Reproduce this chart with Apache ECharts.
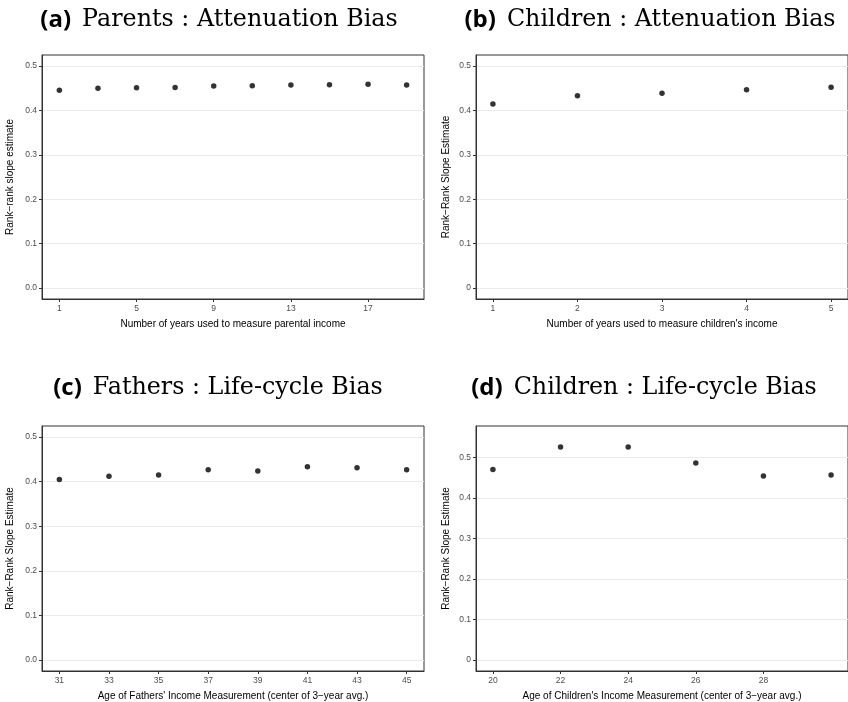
<!DOCTYPE html>
<html><head><meta charset="utf-8">
<script src="https://cdn.jsdelivr.net/npm/echarts@6/dist/echarts.min.js"></script>
<style>html,body{margin:0;padding:0;background:#fff}#c{width:848px;height:702px}</style>
</head><body><div id="c"></div>
<script>
// ---- data ----
const xA = [1, 3, 5, 7, 9, 11, 13, 15, 17, 19];
const yA = [0.4455, 0.450, 0.4513, 0.452, 0.455, 0.4558, 0.4574, 0.458, 0.459, 0.4574];
const xB = [1, 2, 3, 4, 5];
const yB = [0.4148, 0.4334, 0.4388, 0.4469, 0.4522];
const xC = [31, 33, 35, 37, 39, 41, 43, 45];
const yC = [0.405, 0.412, 0.415, 0.4267, 0.424, 0.4334, 0.4311, 0.4267];
const xD = [20, 22, 24, 26, 28, 30];
const yD = [0.4703, 0.5257, 0.5257, 0.486, 0.454, 0.4564];

const xTicksA = [1, 5, 9, 13, 17];
const xTicksB = [1, 2, 3, 4, 5];
const xTicksC = [31, 33, 35, 37, 39, 41, 43, 45];
const xTicksD = [20, 22, 24, 26, 28];
const yTickValues = [0, 0.1, 0.2, 0.3, 0.4, 0.5];
const yTickLabelsAC = ['0.0', '0.1', '0.2', '0.3', '0.4', '0.5'];
const yTickLabelsBD = ['0', '0.1', '0.2', '0.3', '0.4', '0.5'];

const titles = [
  ['(a)', 'Parents : Attenuation Bias'],
  ['(b)', 'Children : Attenuation Bias'],
  ['(c)', 'Fathers : Life-cycle Bias'],
  ['(d)', 'Children : Life-cycle Bias']
];
const yNames = ['Rank\u2212rank slope estimate', 'Rank\u2212Rank Slope Estimate', 'Rank\u2212Rank Slope Estimate', 'Rank\u2212Rank Slope Estimate'];
const xNames = ['Number of years used to measure parental income',
  "Number of years used to measure children's income",
  "Age of Fathers' Income Measurement (center of 3\u2212year avg.)",
  "Age of Children's Income Measurement (center of 3\u2212year avg.)"];

// ---- layout ----
const grids = [
  {left: 42, top: 55, width: 382, height: 244},
  {left: 476, top: 55, width: 382, height: 244},
  {left: 42, top: 426, width: 382, height: 245},
  {left: 476, top: 426, width: 382, height: 245}
];
const xRanges = [[0.1, 19.9], [0.8, 5.2], [30.3, 45.7], [19.5, 30.5]];
const yRanges = [[-0.025, 0.525], [-0.025, 0.525], [-0.025, 0.525], [-0.0275, 0.5775]];
const xTicks = [xTicksA, xTicksB, xTicksC, xTicksD];
const yLabels = [yTickLabelsAC, yTickLabelsBD, yTickLabelsAC, yTickLabelsBD];
const yNameGaps = [27, 25, 27, 25];
const titlePos = [[219, 20], [650, 20], [218, 388], [644, 388]];
const xs = [xA, xB, xC, xD], ys = [yA, yB, yC, yD];

const tickFont = {fontFamily: 'Liberation Sans', fontSize: 8.5, color: '#4d4d4d'};
const nameFont = {fontFamily: 'Liberation Sans', fontSize: 10, color: '#000'};

const option = {
  animation: false,
  backgroundColor: '#fff',
  grid: grids.map(g => Object.assign({show: true, borderColor: '#333', borderWidth: 1, backgroundColor: '#fff', containLabel: false}, g)),
  xAxis: grids.map((g, i) => ({
    type: 'value', gridIndex: i, min: xRanges[i][0], max: xRanges[i][1],
    name: xNames[i], nameLocation: 'middle', nameGap: 20, nameTextStyle: nameFont,
    axisLine: {show: true, onZero: false, lineStyle: {color: '#333', width: 1}},
    axisTick: {show: true, length: 3, customValues: xTicks[i], lineStyle: {color: '#333'}},
    axisLabel: Object.assign({show: true, margin: 5, customValues: xTicks[i], formatter: v => String(v)}, tickFont),
    splitLine: {show: false}
  })),
  yAxis: grids.map((g, i) => ({
    type: 'value', gridIndex: i, min: yRanges[i][0], max: yRanges[i][1], interval: 0.1,
    name: yNames[i], nameLocation: 'middle', nameGap: yNameGaps[i], nameTextStyle: nameFont,
    axisLine: {show: true, onZero: false, lineStyle: {color: '#333', width: 1}},
    axisTick: {show: true, length: 3, customValues: yTickValues, lineStyle: {color: '#333'}},
    axisLabel: Object.assign({show: true, margin: 5, customValues: yTickValues,
      formatter: v => { const k = yTickValues.findIndex(t => Math.abs(t - v) < 1e-6); return k >= 0 ? yLabels[i][k] : ''; }}, tickFont),
    splitLine: {show: true, lineStyle: {color: '#ebebeb', width: 1}}
  })),
  series: grids.map((g, i) => ({
    type: 'scatter', xAxisIndex: i, yAxisIndex: i, symbol: 'circle', symbolSize: 5.5,
    itemStyle: {color: '#000'},
    data: xs[i].map((x, j) => [x, ys[i][j]])
  })),
  graphic: titles.map((t, i) => ({
    type: 'text', x: titlePos[i][0], y: titlePos[i][1],
    style: {
      text: '{b|' + t[0] + '}{s|' + t[1] + '}',
      align: 'center', verticalAlign: 'middle',
      rich: {
        b: {fontFamily: 'Open Sans', fontWeight: 'bold', fontSize: 24, fill: '#000', color: '#000', padding: [0, 11, 0, 0]},
        s: {fontFamily: 'DejaVu Serif', fontSize: 23.8, fill: '#000', color: '#000'}
      }
    }
  }))
};
const chart = echarts.init(document.getElementById('c'), null, {renderer: 'canvas'});
chart.setOption(option);
</script></body></html>
